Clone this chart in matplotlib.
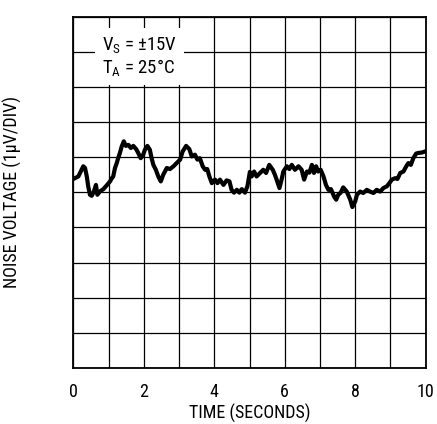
import numpy as np
import matplotlib
matplotlib.use("Agg")
import matplotlib.pyplot as plt

fonts = ['Roboto Condensed', 'Archivo Narrow', 'PT Sans Narrow', 'Liberation Sans', 'DejaVu Sans']
plt.rcParams['font.family'] = fonts
plt.rcParams['mathtext.fontset'] = 'custom'
plt.rcParams['mathtext.rm'] = fonts[0]

# trace: time (s), level (divisions, 0..10)
time_s = [0.04, 0.14, 0.28, 0.33, 0.38, 0.42, 0.47, 0.52, 0.58, 0.64, 0.68, 0.75,
          0.85, 0.94, 1.04, 1.09, 1.13, 1.18, 1.23, 1.27, 1.32, 1.37, 1.43, 1.49,
          1.56, 1.63, 1.70, 1.78, 1.84, 1.91, 1.97, 2.03, 2.10, 2.17, 2.22, 2.27,
          2.34, 2.41, 2.48, 2.55, 2.65, 2.74, 2.84, 2.93, 3.03, 3.10, 3.20, 3.29,
          3.36, 3.45, 3.52, 3.59, 3.67, 3.74, 3.80, 3.86, 3.93, 4.02, 4.09, 4.16,
          4.26, 4.35, 4.43, 4.49, 4.56, 4.64, 4.71, 4.78, 4.87, 4.94, 5.01, 5.06,
          5.13, 5.20, 5.30, 5.39, 5.47, 5.56, 5.66, 5.72, 5.77, 5.85, 5.91, 5.96,
          6.06, 6.13, 6.20, 6.29, 6.39, 6.48, 6.55, 6.63, 6.70, 6.77, 6.83, 6.89,
          6.95, 7.02, 7.10, 7.17, 7.24, 7.31, 7.36, 7.40, 7.46, 7.52, 7.59, 7.66,
          7.76, 7.86, 7.92, 8.00, 8.05, 8.14, 8.23, 8.33, 8.42, 8.52, 8.61, 8.71,
          8.80, 8.90, 8.97, 9.04, 9.13, 9.20, 9.28, 9.37, 9.45, 9.51, 9.58, 9.65,
          9.73, 9.79, 9.89, 9.98]
noise = [5.40, 5.45, 5.74, 5.69, 5.45, 5.17, 4.93, 4.90, 5.02, 5.21, 4.93, 5.02,
         5.09, 5.19, 5.31, 5.40, 5.45, 5.69, 5.83, 5.97, 6.12, 6.30, 6.45, 6.32,
         6.35, 6.26, 6.32, 6.23, 6.12, 5.97, 6.04, 6.21, 6.32, 6.21, 5.97, 5.78,
         5.64, 5.45, 5.31, 5.50, 5.69, 5.66, 5.74, 5.83, 5.93, 6.16, 6.32, 6.23,
         6.02, 6.07, 5.93, 5.97, 5.74, 5.64, 5.66, 5.45, 5.26, 5.36, 5.26, 5.36,
         5.21, 5.34, 5.31, 5.07, 4.99, 5.07, 4.99, 5.09, 4.99, 5.17, 5.58, 5.45,
         5.59, 5.45, 5.55, 5.64, 5.55, 5.78, 5.64, 5.50, 5.36, 5.12, 5.36, 5.59,
         5.74, 5.66, 5.78, 5.64, 5.74, 5.64, 5.36, 5.59, 5.56, 5.78, 5.55, 5.74,
         5.59, 5.64, 5.45, 5.21, 5.07, 5.09, 4.98, 4.88, 4.79, 4.93, 4.99, 5.14,
         5.02, 4.79, 4.58, 4.74, 4.93, 5.02, 4.98, 5.07, 5.02, 4.98, 5.07, 5.02,
         5.12, 5.17, 5.26, 5.36, 5.40, 5.38, 5.55, 5.59, 5.74, 5.83, 5.78, 5.97,
         6.10, 6.12, 6.13, 6.16]

x_ticks = [0, 2, 4, 6, 8, 10]

fig = plt.figure(figsize=(4.37, 4.24), dpi=100)
ax = fig.add_axes([0.168, 0.132, 0.806, 0.829])

ax.plot(time_s, noise, color='black', lw=3.0, solid_joinstyle='round')

ax.set_xlim(0, 10)
ax.set_ylim(0, 10)
ax.set_xticks(np.arange(0, 11, 1))
ax.set_xticklabels([str(t) if t in x_ticks else '' for t in range(11)], fontsize=13)
ax.set_yticks(np.arange(0, 11, 1))
ax.set_yticklabels([])
ax.tick_params(length=0, pad=10.5)
ax.grid(True, color='black', lw=0.9)
ax.set_axisbelow(True)
for s in ax.spines.values():
    s.set_linewidth(1.3)

ax.set_xlabel('TIME (SECONDS)', fontsize=13, labelpad=2.5)
ax.set_ylabel('NOISE VOLTAGE (1\u00b5V/DIV)', fontsize=13)
ax.yaxis.set_label_coords(-0.146, 0.5)

ax.text(0.8, 8.85, 'V$_\\mathregular{S}$ = \u00b115V\nT$_\\mathregular{A}$ = 25\u00b0C',
        fontsize=13.5, va='center', ha='left', linespacing=1.1,
        bbox=dict(facecolor='white', edgecolor='none', pad=5))

fig.savefig('out.png', dpi=100)
